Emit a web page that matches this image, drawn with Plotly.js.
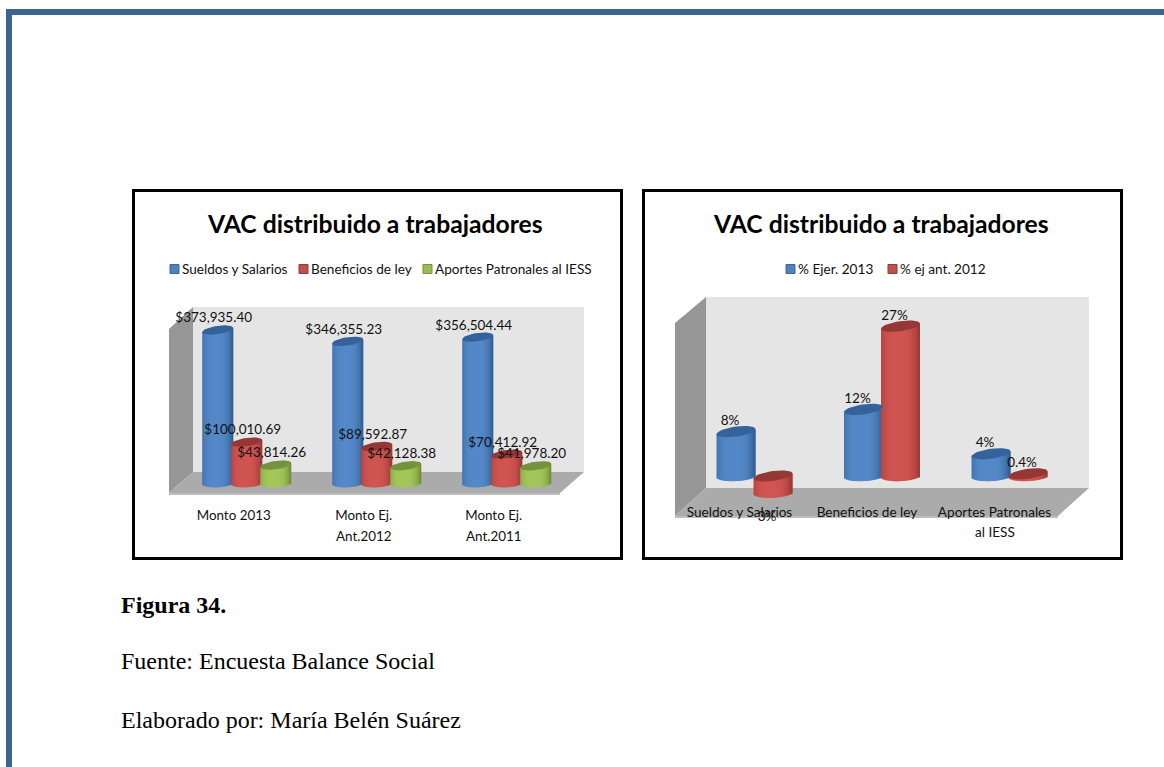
<!DOCTYPE html>
<html><head><meta charset="utf-8">
<script src="https://cdn.plot.ly/plotly-3.0.1.min.js"></script>
<style>html,body{margin:0;padding:0;background:#fff;overflow:hidden}</style>
</head><body><div id="chart" style="width:1164px;height:767px"></div>
<script>
// ---- data ----
const leftTitle = "VAC distribuido a trabajadores";
const rightTitle = "VAC distribuido a trabajadores";
const leftCatLine1 = ["Monto 2013", "Monto Ej.", "Monto Ej."];
const leftCatLine2 = ["", "Ant.2012", "Ant.2011"];
const leftSeriesNames = ["Sueldos y Salarios", "Beneficios de ley", "Aportes Patronales al IESS"];
const sueldos = [373935.40, 346355.23, 356504.44];
const beneficios = [100010.69, 89592.87, 70412.92];
const aportes = [43814.26, 42128.38, 41978.20];
const rightCatLine1 = ["Sueldos y Salarios", "Beneficios de ley", "Aportes Patronales"];
const rightCatLine2 = ["", "", "al IESS"];
const rightSeriesNames = ["% Ejer. 2013", "% ej ant. 2012"];
const ejer2013 = [8, 12, 4];
const ejAnt2012 = [-3, 27, 0.4];
const ejer2013Labels = ["8%", "12%", "4%"];
const ejAnt2012Labels = ["3%", "27%", "0.4%"];
const figura = "Figura 34.";
const fuente = "Fuente: Encuesta Balance Social";
const elaborado = "Elaborado por: María Belén Suárez";

// ---- helpers ----
const W = 1164, H = 767;
const px = v => v / W, py = v => 1 - v / H;
const SANS = "Lato, 'Noto Sans', sans-serif";
const SERIF = "'Liberation Serif', serif";
const pal = {
  blue:  {mid:[84,136,200], edge:[44,88,140], cap:"#34629A", sw:"#4F81BD", swl:"#38659A"},
  red:   {mid:[208,84,81],  edge:[146,52,50], cap:"#953735", sw:"#C0504D", swl:"#943A38"},
  green: {mid:[164,199,90], edge:[106,134,52], cap:"#76923C", sw:"#9BBB59", swl:"#76923C"}
};
const STRIPS = 20;
function shade(c, t) {           // t in [-1,1] across the cylinder
  const k = Math.pow(Math.abs(t + 0.12) / 1.12, 3.2);
  const m = c.mid.map((v, i) => Math.round(v + (c.edge[i] - v) * Math.min(1, k)));
  return `rgb(${m.join(",")})`;
}

const traces = [], shapes = [], annotations = [];

function drawChart(o) {
  const xa = o.xa, ya = o.ya;
  const xUnit = 1 / o.groupPx;               // data units per px on x
  const yUnit = (o.yRange[1] - o.yRange[0]) / (o.pxBottom - o.pxTop);
  const w = o.barPx * xUnit;
  const sw = w / STRIPS;
  o.series.forEach(s => {
    const c = pal[s.color];
    const xc = s.values.map((_, i) => i + s.offsetPx * xUnit);
    for (let k = 0; k < STRIPS; k++) {
      const t = -1 + (2 * k + 1) / STRIPS;
      const dxPx = t * o.barPx / 2;
      const ell = o.ry * Math.sqrt(1 - t * t);
      const tops = s.values.map(v => Math.max(v, 0) + o.tilt * dxPx * yUnit);
      const bots = s.values.map(v => Math.min(v, 0) + (0.5 * o.tilt * dxPx - ell) * yUnit);
      const startOff = -w / 2 + k * sw;
      const stripW = Math.min(2 * sw, w / 2 - startOff);
      traces.push({
        type: "bar", xaxis: xa, yaxis: ya, name: s.name, showlegend: false, hoverinfo: "skip",
        x: xc.map(x => x + startOff + stripW / 2),
        y: tops.map((v, i) => v - bots[i]),
        base: bots, width: stripW,
        marker: {color: shade(c, t), line: {width: 0}}
      });
    }
  });
  o.series.forEach(s => {
    const c = pal[s.color];
    const xs = [], ys = [];
    s.values.forEach((v, i) => {
      const cx = i + s.offsetPx * xUnit, top = Math.max(v, 0);
      for (let a = 0; a <= 40; a++) {
        const th = a / 40 * 2 * Math.PI;
        const dx = Math.cos(th) * o.barPx / 2;
        xs.push(cx + dx * xUnit);
        ys.push(top + (o.tilt * dx + o.ry * Math.sin(th)) * yUnit);
      }
      xs.push(null); ys.push(null);
    });
    traces.push({type: "scatter", mode: "lines", fill: "toself", fillcolor: c.cap,
      line: {width: 0, color: c.cap}, xaxis: xa, yaxis: ya, showlegend: false, hoverinfo: "skip",
      cliponaxis: false, x: xs, y: ys});
  });
  o.series.forEach(s => {
    traces.push({type: "scatter", mode: "text", xaxis: xa, yaxis: ya, showlegend: false, name: s.name,
      cliponaxis: false, hoverinfo: "skip",
      x: s.values.map((v, i) => i + (s.offsetPx + o.labelDx) * xUnit),
      y: s.values.map(v => v < 0 ? v - 25 * yUnit : v + o.labelDy * yUnit),
      text: s.labels, textposition: "middle center",
      textfont: {family: SANS, size: o.labelSize, color: "#111"}});
  });
  // category second lines
  o.catLine2.forEach((t, i) => {
    if (t) annotations.push({xref: xa, yref: "paper", x: i + o.tickOffsetPx * xUnit,
      y: py(o.line2Y), text: t, showarrow: false, xanchor: "center", yanchor: "middle",
      font: {family: SANS, size: o.catSize, color: "#111"}});
  });
  // frame (first, so that the box lies on it)
  shapes.push({type: "rect", xref: "paper", yref: "paper", layer: "below",
    x0: px(o.frame[0]), x1: px(o.frame[1]), y0: py(o.frame[2]), y1: py(o.frame[3]),
    line: {color: "#000", width: 3}, fillcolor: "#fff"});
  // 3-D box
  const b = o.box;
  const poly = (pts, col) => shapes.push({type: "path", xref: "paper", yref: "paper", layer: "below",
    path: "M" + pts.map(p => px(p[0]) + "," + py(p[1])).join("L") + "Z", fillcolor: col, line: {width: 0}});
  poly([[b.wl, b.wt], [b.wr, b.wt], [b.wr, b.wb], [b.wl, b.wb]], "#E5E5E5");
  poly([[b.fl, b.st], [b.wl, b.wt], [b.wl, b.wb], [b.fl, b.fb]], "#969696");
  poly([[b.wl, b.wb], [b.wr, b.wb], [b.fr, b.fb], [b.fl, b.fb]], "#ABABAB");
  poly([[b.fl, b.fb], [b.fr, b.fb], [b.fr, b.fb + 2], [b.fl, b.fb + 2]], "#BEBEBE");
  // title
  annotations.push({xref: "paper", yref: "paper", x: px(o.titleX), y: py(223), text: "<b>" + o.title + "</b>",
    showarrow: false, xanchor: "center", yanchor: "middle",
    font: {family: SANS, size: o.titleSize, color: "#000"}});
  // legend
  o.legend.forEach((l, i) => {
    const c = pal[o.series[i].color];
    shapes.push({type: "rect", xref: "paper", yref: "paper", layer: "above",
      x0: px(l.x), x1: px(l.x + 9), y0: py(264.5), y1: py(273.5), fillcolor: c.sw, line: {color: c.swl, width: 1}});
    annotations.push({xref: "paper", yref: "paper", x: px(l.x + 9.5), y: py(269), text: o.series[i].name,
      showarrow: false, xanchor: "left", yanchor: "middle",
      font: {family: SANS, size: o.legendSize, color: "#111"}});
  });
}

const money = v => "$" + v.toLocaleString("en-US", {minimumFractionDigits: 2, maximumFractionDigits: 2});
const yLeftUnit = 2444, yRightUnit = 1 / 5.55;
const leftBottom = 535, leftTop = 300, leftZero = 483, rightBottom = 535, rightTop = 295, rightZero = 476;

const leftCfg = {
  xa: "x", ya: "y", groupPx: 130, barPx: 31, ry: 4.2, tilt: 0.13, labelDx: -4, labelDy: 11, labelSize: 13.5,
  yRange: [(leftZero - leftBottom) * yLeftUnit, (leftZero - leftTop) * yLeftUnit], pxBottom: leftBottom, pxTop: leftTop,
  tickOffsetPx: -13, catLine2: leftCatLine2, line2Y: 536, catSize: 13.4, titleX: 375, titleSize: 24.7, title: leftTitle, legendSize: 13.6,
  frame: [133.5, 621.5, 190.5, 558.5],
  box: {wl: 193, wr: 584, wt: 307, wb: 472, fl: 169, fr: 560, st: 329, fb: 493},
  series: [
    {name: leftSeriesNames[0], color: "blue", offsetPx: -29, values: sueldos, labels: sueldos.map(money)},
    {name: leftSeriesNames[1], color: "red", offsetPx: 0, values: beneficios, labels: beneficios.map(money)},
    {name: leftSeriesNames[2], color: "green", offsetPx: 29, values: aportes, labels: aportes.map(money)}],
  legend: [{x: 170}, {x: 299}, {x: 423}]
};
const rightCfg = {
  xa: "x2", ya: "y2", groupPx: 127.5, barPx: 39, ry: 5, tilt: 0.13, labelDx: -6, labelDy: 10, labelSize: 13.5,
  yRange: [(rightZero - rightBottom) * yRightUnit, (rightZero - rightTop) * yRightUnit], pxBottom: rightBottom, pxTop: rightTop,
  tickOffsetPx: -15, catLine2: rightCatLine2, line2Y: 532, catSize: 13.6, titleX: 881, titleSize: 24.7, title: rightTitle, legendSize: 13.6,
  frame: [643.5, 1121.5, 190.5, 558.5],
  box: {wl: 706, wr: 1089, wt: 297, wb: 488, fl: 675, fr: 1058, st: 323, fb: 516},
  series: [
    {name: rightSeriesNames[0], color: "blue", offsetPx: -18.5, values: ejer2013, labels: ejer2013Labels},
    {name: rightSeriesNames[1], color: "red", offsetPx: 18.5, values: ejAnt2012, labels: ejAnt2012Labels}],
  legend: [{x: 786}, {x: 888}]
};
drawChart(leftCfg);
drawChart(rightCfg);

// page frame
shapes.push({type: "path", xref: "paper", yref: "paper", layer: "below",
  path: `M${px(9)},${py(770)}L${px(9)},${py(12)}L${px(1170)},${py(12)}`, line: {color: "#3B6491", width: 6}});

// caption
[[figura, 605, true], [fuente, 661, false], [elaborado, 720, false]].forEach(r => {
  annotations.push({xref: "paper", yref: "paper", x: px(119), y: py(r[1]), showarrow: false,
    text: r[2] ? "<b>" + r[0] + "</b>" : r[0], xanchor: "left", yanchor: "middle",
    font: {family: SERIF, size: 24, color: "#000"}});
});

const xAxisFor = (cfg, domL, domR, zero, cats, tickFont, axisPx) => ({
  domain: [px(domL), px(domR)],
  range: [(domL - zero) / cfg.groupPx, (domR - zero) / cfg.groupPx],
  showgrid: false, zeroline: false, showline: false, ticks: "",
  tickmode: "array", tickvals: cats.map((_, i) => i + cfg.tickOffsetPx / cfg.groupPx), ticktext: cats,
  tickfont: tickFont, tickangle: 0, anchor: "free", position: py(axisPx)
});
const yAxisFor = cfg => ({
  domain: [py(cfg.pxBottom), py(cfg.pxTop)], range: cfg.yRange,
  showgrid: false, zeroline: false, showline: false, showticklabels: false, ticks: "", anchor: cfg.xa
});

const layout = {
  width: W, height: H, margin: {l: 0, r: 0, t: 0, b: 0, pad: 0},
  paper_bgcolor: "#fff", plot_bgcolor: "rgba(0,0,0,0)", showlegend: false, barmode: "overlay",
  xaxis: xAxisFor(leftCfg, 169, 584, 246.7, leftCatLine1, {family: SANS, size: 13.4, color: "#111"}, 506),
  yaxis: yAxisFor(leftCfg),
  xaxis2: xAxisFor(rightCfg, 675, 1089, 754.5, rightCatLine1, {family: SANS, size: 13.6, color: "#111"}, 502),
  yaxis2: yAxisFor(rightCfg),
  shapes, annotations
};
Plotly.newPlot("chart", traces, layout, {displayModeBar: false, staticPlot: true});
</script></body></html>
